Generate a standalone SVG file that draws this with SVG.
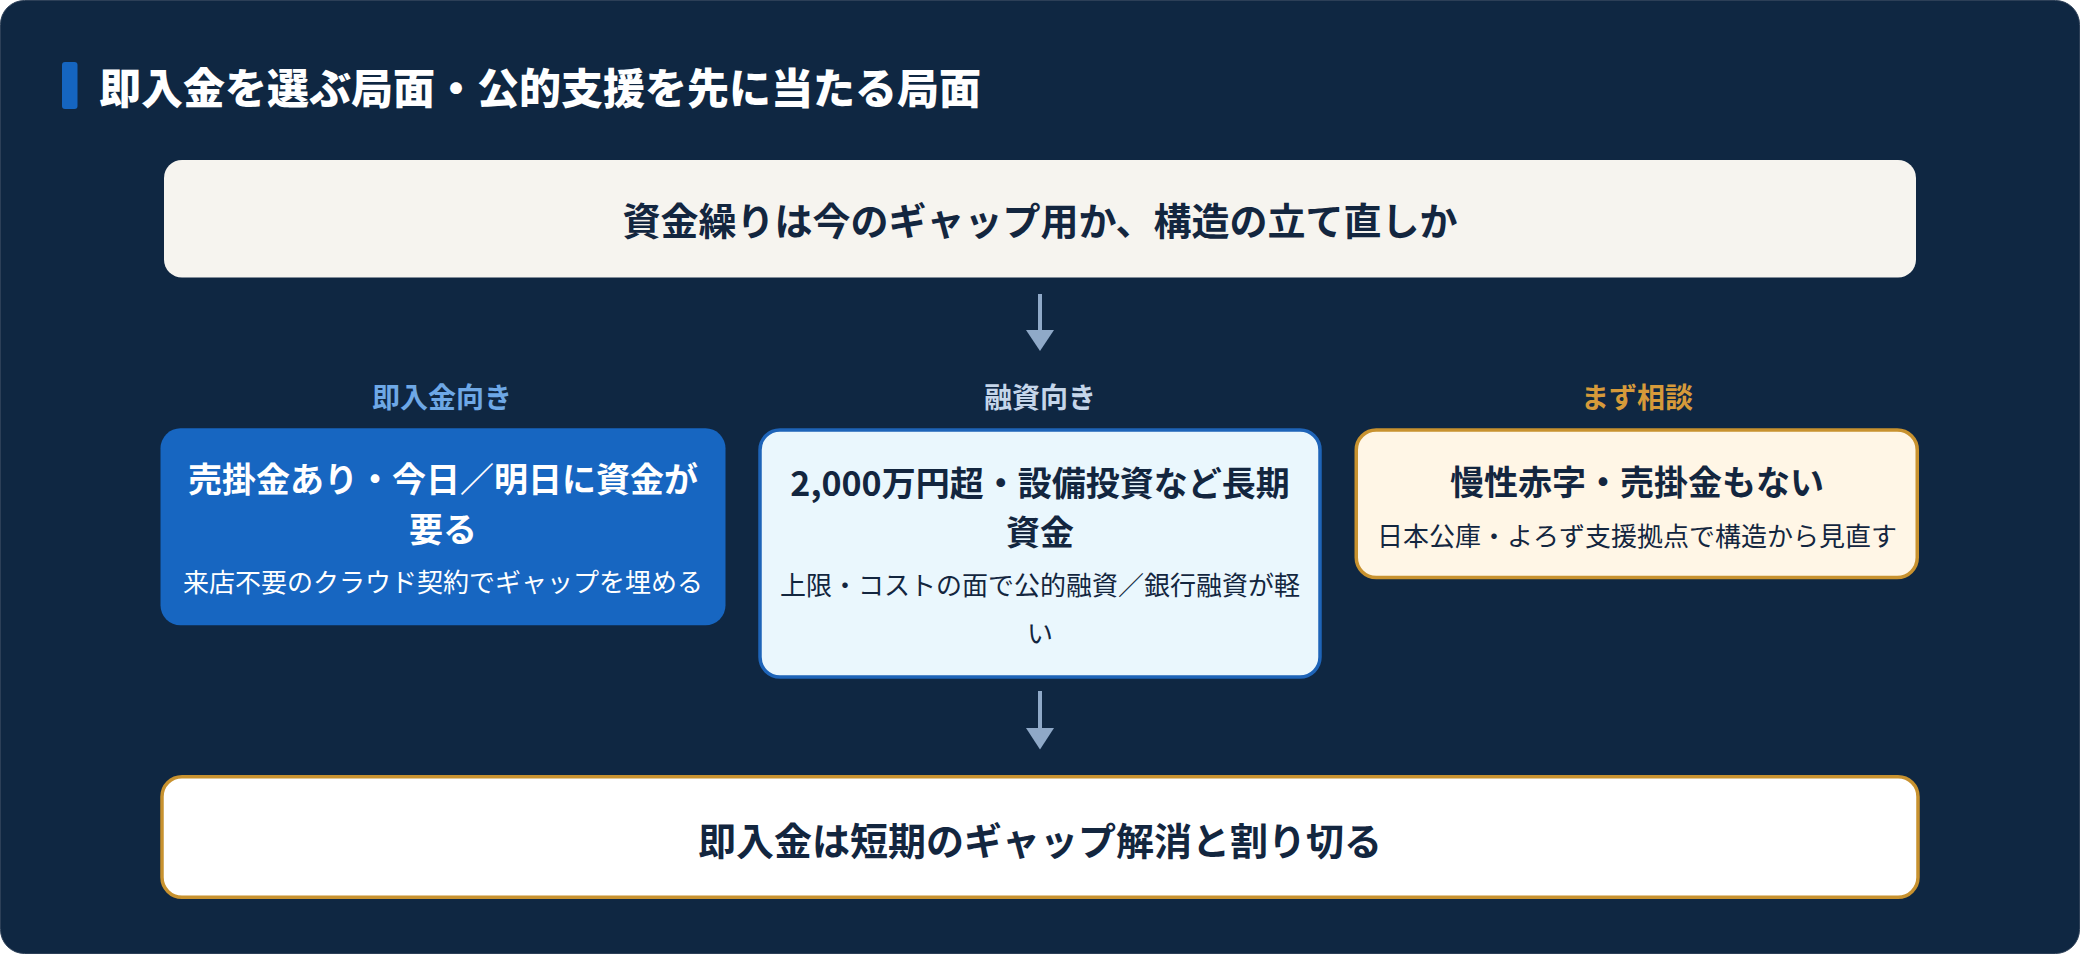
<svg xmlns="http://www.w3.org/2000/svg" width="2080" height="954" viewBox="0 0 2080 954">
  <defs>
    <style>
      text { font-family: "Noto Sans CJK JP", "Noto Sans", sans-serif; text-anchor: middle; }
      .title { font-size: 42px; font-weight: 900; fill: #ffffff; text-anchor: start; }
      .big { font-size: 38px; font-weight: 700; fill: #13263f; }
      .lbl { font-size: 28px; font-weight: 700; }
      .h { font-size: 34px; font-weight: 700; }
      .s { font-size: 26px; font-weight: 400; }
      .dark { fill: #13263f; }
      .light { fill: #ffffff; }
      .conn { stroke: #8fa9c8; stroke-width: 4; fill: none; }
      .head { fill: #8fa9c8; }
    </style>
  </defs>

  <rect x="0.5" y="0.5" width="2079" height="953" rx="24" fill="#0f2742" stroke="#2c3f57" stroke-width="1"/>

  <g id="title">
    <rect x="62" y="62" width="15.5" height="47" rx="3" fill="#1565c0"/>
    <text class="title" x="99" y="104">即入金を選ぶ局面・公的支援を先に当たる局面</text>
  </g>

  <g id="question">
    <rect x="164" y="160" width="1752" height="117.5" rx="18" fill="#f6f4ef"/>
    <text class="big" x="1040" y="235">資金繰りは今のギャップ用か、構造の立て直しか</text>
  </g>

  <g id="connectors">
    <line class="conn" x1="1040" y1="294" x2="1040" y2="332"/>
    <path class="head" d="M1026,330 L1054,330 L1040,351 Z"/>
    <line class="conn" x1="1040" y1="691" x2="1040" y2="730"/>
    <path class="head" d="M1026,728 L1054,728 L1040,749.5 Z"/>
  </g>

  <g id="label-a">
    <text class="lbl" x="442" y="408" fill="#6ea8e6">即入金向き</text>
  </g>
  <g id="label-b">
    <text class="lbl" x="1040" y="408" fill="#c5d6ea">融資向き</text>
  </g>
  <g id="label-c">
    <text class="lbl" x="1637" y="408" fill="#d69a3a">まず相談</text>
  </g>

  <g id="node-a">
    <rect x="160.5" y="428.3" width="565" height="197" rx="20" fill="#1766c1"/>
    <text class="h light" x="443" y="492">売掛金あり・今日／明日に資金が</text>
    <text class="h light" x="443" y="542">要る</text>
    <text class="s light" x="443" y="592">来店不要のクラウド契約でギャップを埋める</text>
  </g>

  <g id="node-b">
    <rect x="760" y="430" width="560" height="247" rx="20" fill="#eaf7fd" stroke="#1e64b8" stroke-width="3.5"/>
    <text class="h dark" x="1040" y="495.5">2,000万円超・設備投資など長期</text>
    <text class="h dark" x="1040" y="544.5">資金</text>
    <text class="s dark" x="1040" y="595">上限・コストの面で公的融資／銀行融資が軽</text>
    <text class="s dark" x="1040" y="643">い</text>
  </g>

  <g id="node-c">
    <rect x="1356.25" y="430" width="561" height="147.5" rx="20" fill="#fff6e6" stroke="#c8922f" stroke-width="3.5"/>
    <text class="h dark" x="1637" y="494.5">慢性赤字・売掛金もない</text>
    <text class="s dark" x="1637" y="546">日本公庫・よろず支援拠点で構造から見直す</text>
  </g>

  <g id="conclusion">
    <rect x="162" y="776.75" width="1756" height="120.5" rx="20" fill="#ffffff" stroke="#c8922f" stroke-width="3.5"/>
    <text class="big" x="1040" y="854.5">即入金は短期のギャップ解消と割り切る</text>
  </g>
</svg>
